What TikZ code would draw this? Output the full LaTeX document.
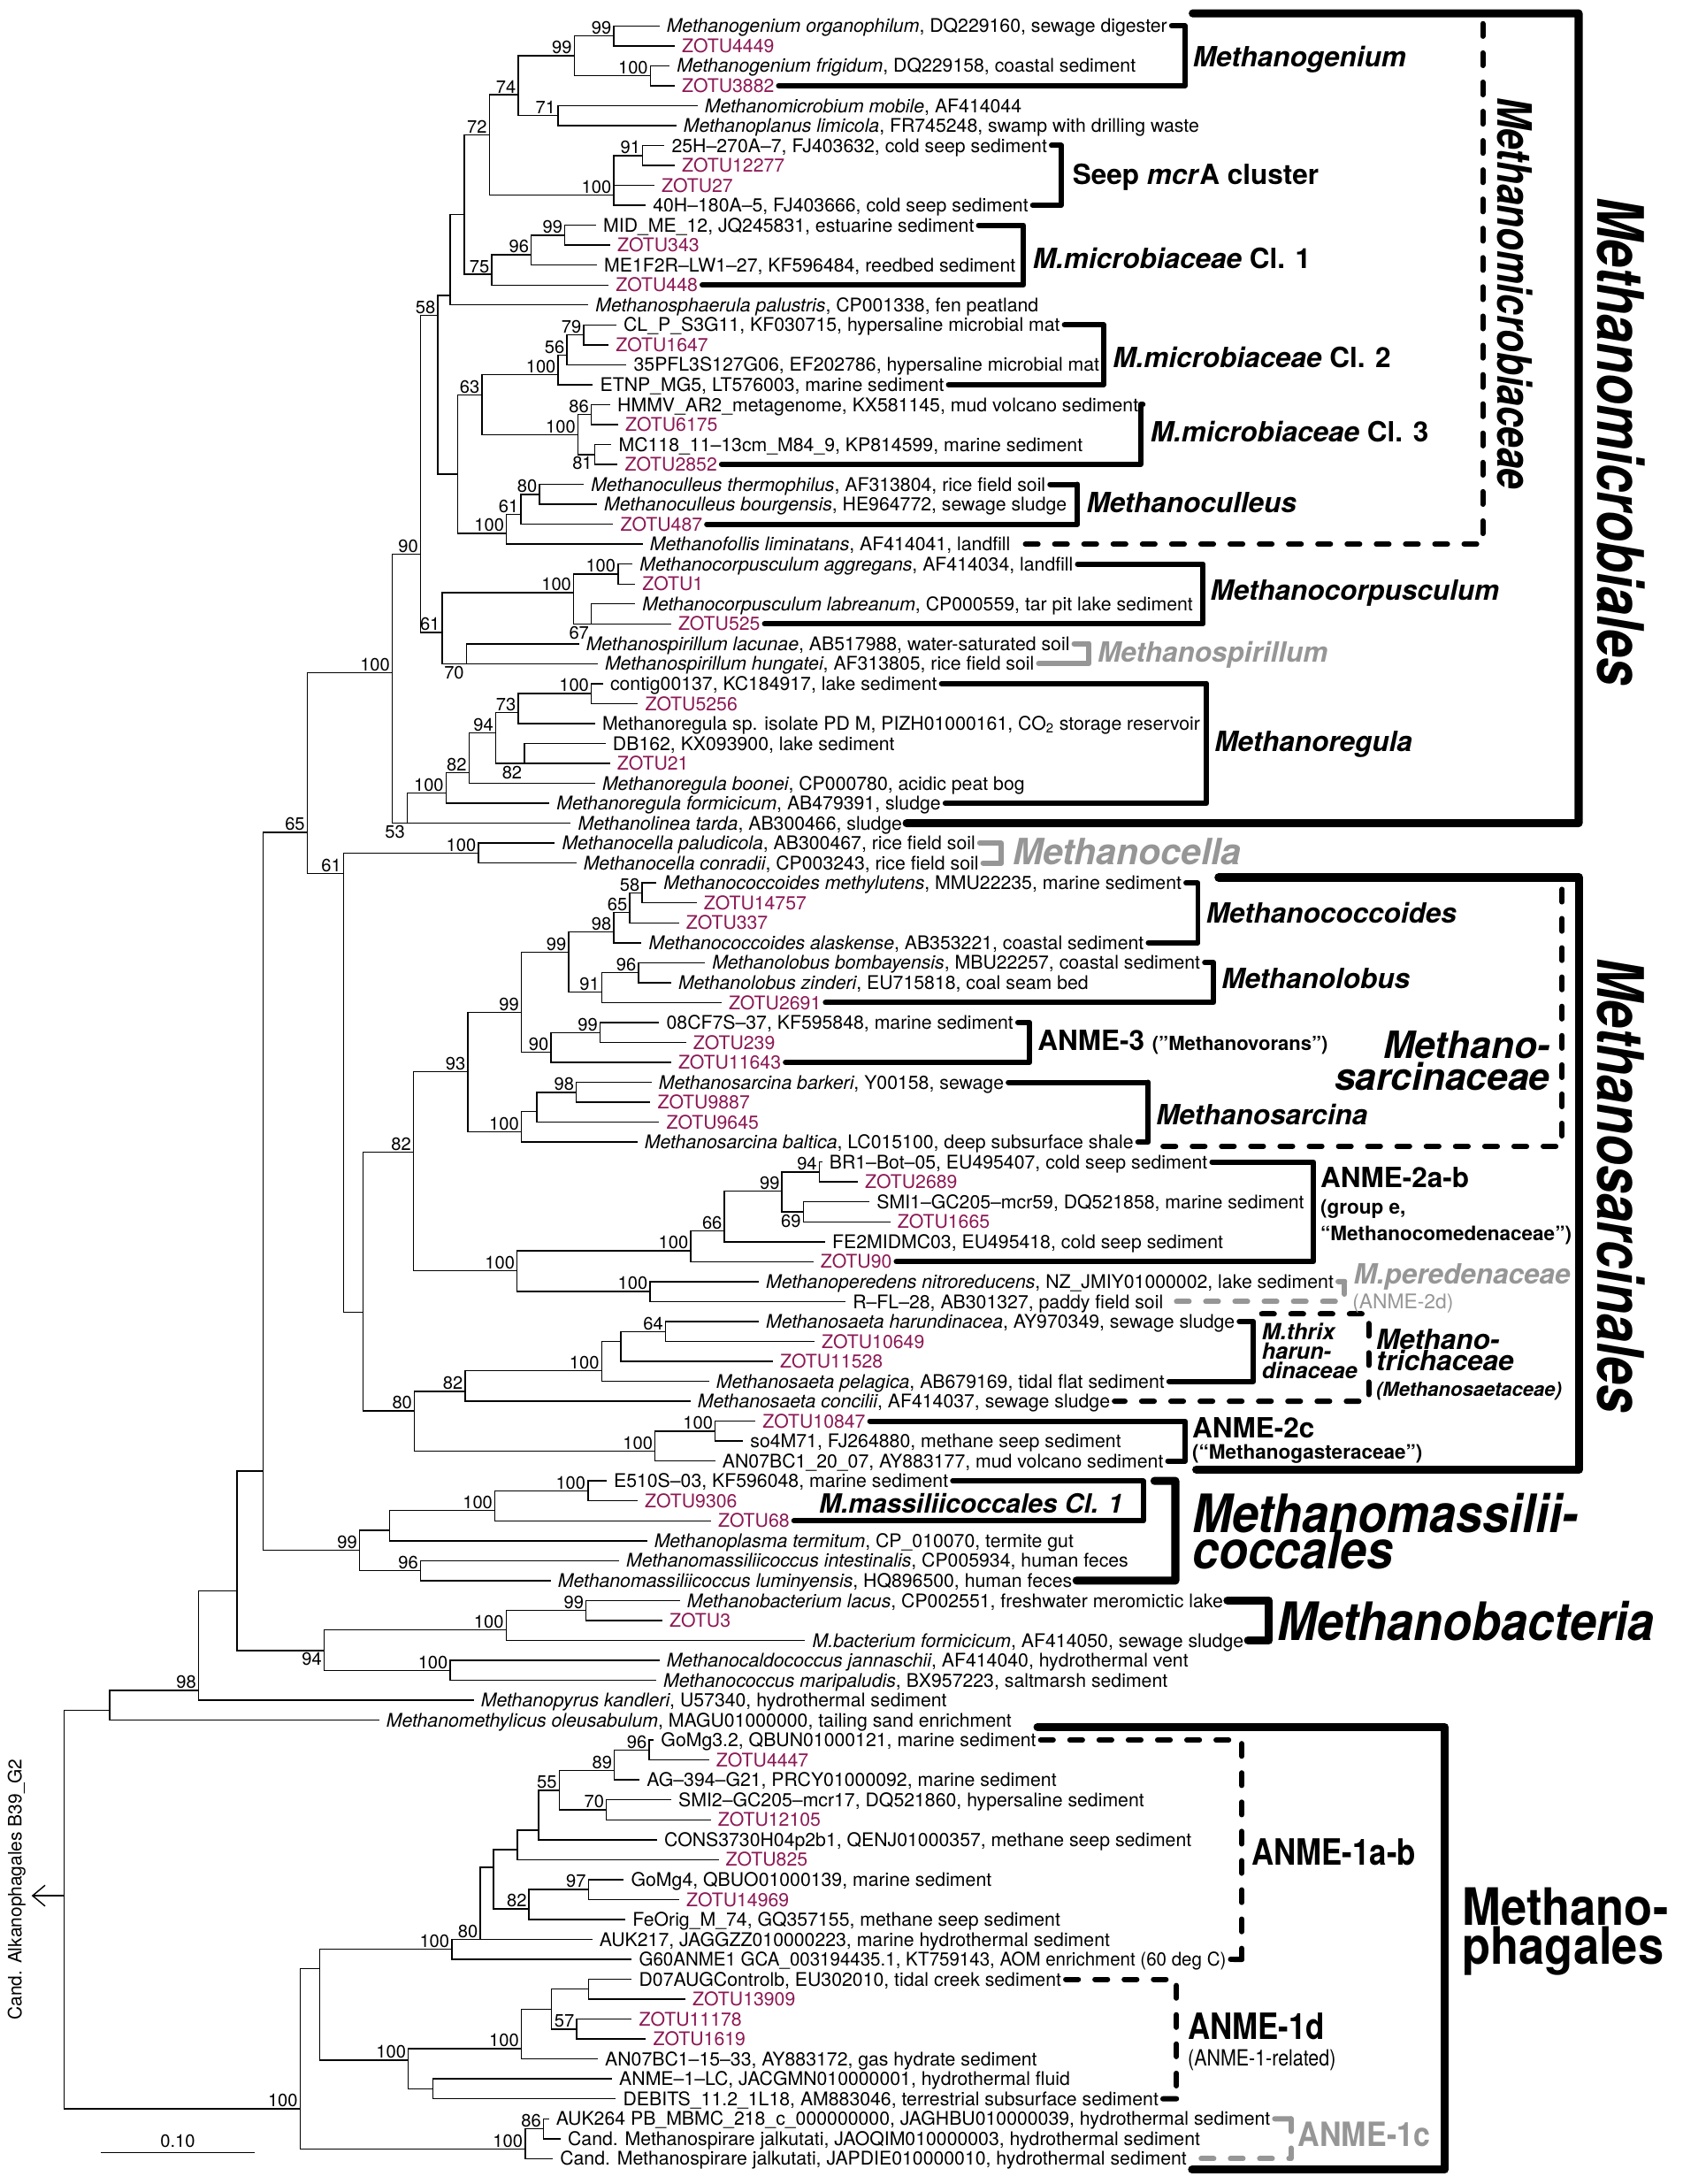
\documentclass[tikz,border=0pt]{standalone}
\usepackage{fontspec}
\setmainfont{TeX Gyre Heros}
\usepackage{tikz}
\usetikzlibrary{arrows.meta}
\definecolor{zotuR}{RGB}{140,25,85}
\definecolor{cladeG}{RGB}{150,150,150}

\newcommand{\fs}[1]{\fontsize{#1}{#1}\selectfont}
\newcommand{\cnd}[2]{\scalebox{#1}[1]{#2}}

\tikzset{
  branch/.style = {line width = 0.9pt},
  leaf/.style = {anchor = west, inner sep = 0pt, xshift = 5pt,
                 text height = 9.7pt, text depth = 0pt, font = \fs{13.5}},
  zotu/.style = {leaf, text = zotuR},
  boot/.style = {anchor = south east, inner sep = 0pt, xshift = -1.5pt, yshift = 1pt, font = \fs{12.8}},
  bootB/.style = {anchor = north east, inner sep = 0pt, xshift = -1.5pt, yshift = -1.5pt, font = \fs{12.8}},
  grp/.style = {line width = 3.8pt, line cap = round, line join = round},
  grpD/.style = {grp, dash pattern = on 9pt off 12pt},
  ordr/.style = {line width = 5.8pt, line cap = round, line join = round},
  glab/.style = {anchor = base west, inner sep = 0pt, font = \fs{20}\bfseries\itshape},
  glabU/.style = {anchor = base west, inner sep = 0pt, font = \fs{20}\bfseries},
  gsub/.style = {anchor = base west, inner sep = 0pt, font = \fs{14.3}\bfseries},
}

% internal node with bootstrap value above / below the stem
\newcommand{\bn}[3]{\coordinate (#1) at (#2); \node[boot] (#1t) at (#1) {#3};}
\newcommand{\bnB}[3]{\coordinate (#1) at (#2); \node[bootB] (#1t) at (#1) {#3};}
% leaf: style, row, tip x, parent, text
\newcommand{\tipnode}[5]{%
  \coordinate (l#2) at (#3, {18.6 + (#2 - 1)*14.31});
  \node[#1] (L#2) at (l#2) {#5};
  \draw[branch] (#4) |- (l#2);}

\begin{document}
\begin{tikzpicture}[x=1pt, y=-1pt]
  \useasboundingbox (0,0) rectangle (1208,1568);
  \fill[white] (0,0) rectangle (1208,1568);

  % ------------------------
  % internal nodes
  % ------------------------

  % Methanomicrobiales
  \bn{Na}{440.7,25.8}{99}
  \bn{Nb}{467.0,54.4}{100}
  \bn{Nc}{412.3,40.0}{99}
  \bn{Nd}{400.6,83.0}{71}
  \bn{Ne}{372.2,68.0}{74}
  \bn{Nf}{461.5,111.7}{91}
  \bn{Ng}{440.7,140.0}{100}
  \bn{Nh}{351.4,97.0}{72}
  \bn{Ni}{405.6,168.9}{99}
  \bn{Nj}{381.5,183.0}{96}
  \bn{Nk}{353.1,197.0}{75}
  \coordinate (Nl) at (333.3,154.0);
  \coordinate (Nm) at (323.2,212.0);
  \bn{N58}{314.4,226.5}{58}
  \bn{N79}{419.2,240.4}{79}
  \bn{N56}{407.1,255.0}{56}
  \bn{Ncl2}{400.8,269.0}{100}
  \bn{N63}{346.1,283.6}{63}
  \bn{N86}{424.5,297.7}{86}
  \bnB{N81}{427.0,326.3}{81}
  \bn{Ncl3}{415.0,312.0}{100}
  \bn{N80c}{387.4,354.9}{80}
  \bn{N61c}{374.1,369.3}{61}
  \bn{Ncul}{363.7,383.0}{100}
  \coordinate (Nu) at (328.6,340.3);
  \bn{Nc1}{443.8,412.2}{100}
  \bnB{N67}{424.6,447.9}{67}
  \bn{Ncor}{411.9,425.5}{100}
  \bnB{N70}{334.9,476.5}{70}
  \bn{N61b}{317.6,454.0}{61}
  \bn{N90}{302.0,397.7}{90}
  \bn{Nreg5}{424.6,498.0}{100}
  \bn{N73}{372.2,511.5}{73}
  \bnB{N82b}{376.5,548.1}{82}
  \bn{N94r}{356.0,526.0}{94}
  \bn{N82r}{336.8,554.6}{82}
  \bn{Nreg}{320.3,569.4}{100}
  \bnB{N53}{292.5,591.0}{53}
  \bn{Nmmi}{281.7,483.0}{100}
  \bn{Ncel}{343.6,612.5}{100}
  \bn{N61}{246.7,627.0}{61}
  \bn{N65}{220.6,597.5}{65}

  % Methanosarcinales
  \bn{N58s}{461.1,641.1}{58}
  \bn{N65s}{452.2,655.0}{65}
  \bn{N98s}{440.7,669.0}{98}
  \bn{N96s}{458.5,698.4}{96}
  \bn{N91s}{432.2,712.3}{91}
  \bn{N99b}{408.3,683.7}{99}
  \bn{N99c}{430.9,741.3}{99}
  \bn{N90s}{395.6,755.3}{90}
  \bn{N99a}{374.3,726.7}{99}
  \bn{N98b}{413.9,784.2}{98}
  \coordinate (Nx) at (385.4,798.0);
  \bn{Nsar}{374.3,812.4}{100}
  \bn{N93}{336.0,769.4}{93}
  \bn{N94s}{588.3,841.5}{94}
  \bnB{N69}{576.8,870.1}{69}
  \bn{N99d}{561.5,855.2}{99}
  \bn{N66}{520.2,883.8}{66}
  \bn{N100h}{496.0,898.0}{100}
  \bn{N100i}{466.8,927.3}{100}
  \bn{N100f}{371.3,912.3}{100}
  \bn{N82s}{296.9,827.2}{82}
  \bn{N64}{477.9,956.0}{64}
  \coordinate (Ny) at (445.8,963.0);
  \bn{N100k}{432.0,984.0}{100}
  \bn{N82c}{334.0,999.0}{82}
  \bn{N100l}{513.6,1027.5}{100}
  \bn{N100j}{470.4,1042.0}{100}
  \bn{N80}{297.6,1013.0}{80}
  \coordinate (Nv) at (260.8,942.0);

  % Methanomassiliicoccales, Methanobacteria, backbone
  \bn{N100n}{422.2,1070.4}{100}
  \bn{N100m}{355.4,1084.4}{100}
  \coordinate (Nz) at (279.6,1098.7);
  \bn{N96c}{301.9,1127.7}{96}
  \bn{N99m}{258.2,1113.0}{99}
  \coordinate (Ntop) at (188.8,1056.0);
  \bn{N99e}{420.9,1156.3}{99}
  \bn{N100o}{363.4,1170.0}{100}
  \bn{N100p}{323.3,1199.2}{100}
  \bnB{N94m}{232.8,1185.0}{94}
  \coordinate (Nq) at (170.1,1142.0);
  \bn{N98}{142.6,1213.5}{98}
  \coordinate (Nr) at (78.8,1228.0);
  \coordinate (root) at (46.2,1361.0);

  % Methanophagales
  \bn{N96d}{466.1,1256.4}{96}
  \bn{N89}{441.2,1271.0}{89}
  \bn{N70b}{435.5,1299.3}{70}
  \bn{N55}{401.5,1285.3}{55}
  \coordinate (N682) at (386.8,1314.0);
  \coordinate (N655) at (371.4,1328.0);
  \bn{N97}{422.5,1356.5}{97}
  \bn{N82d}{379.9,1370.5}{82}
  \coordinate (N625) at (354.4,1340.6);
  \bn{N80b}{344.8,1392.4}{80}
  \bn{N100a}{324.4,1399.3}{100}
  \coordinate (N745) at (422.5,1428.1);
  \bn{N57}{414.0,1456.8}{57}
  \coordinate (N698) at (395.8,1442.4);
  \bn{N660}{374.3,1470.8}{100}
  \coordinate (N548) at (310.8,1499.7);
  \bn{N517}{293.2,1479.0}{100}
  \coordinate (N405) at (229.7,1413.2);
  \bn{N86b}{390.2,1528.3}{86}
  \bn{N100q}{377.1,1543.0}{100}
  \bn{NM}{215.5,1514.0}{100}

  % ------------------------
  % branches between internal nodes
  % ------------------------
  \foreach \p/\c in {Nc/Na, Nc/Nb, Ne/Nc, Ne/Nd, Nh/Ne, Ng/Nf, Nh/Ng, Nl/Nh,
      Nj/Ni, Nk/Nj, Nl/Nk, Nm/Nl, N58/Nm, N56/N79, Ncl2/N56, N63/Ncl2,
      Ncl3/N86, Ncl3/N81, N63/Ncl3, Nu/N63, N61c/N80c, Ncul/N61c, Nu/Ncul,
      N58/Nu, N90/N58, Ncor/Nc1, Ncor/N67, N61b/Ncor, N61b/N70, N90/N61b,
      Nmmi/N90, N73/Nreg5, N94r/N73, N94r/N82b, N82r/N94r, Nreg/N82r,
      N53/Nreg, Nmmi/N53, N65/Nmmi, N61/Ncel, N65/N61, Ntop/N65,
      N65s/N58s, N98s/N65s, N99b/N98s, N91s/N96s, N99b/N91s, N99a/N99b,
      N90s/N99c, N99a/N90s, N93/N99a, Nx/N98b, Nsar/Nx, N93/Nsar, N82s/N93,
      N99d/N94s, N99d/N69, N66/N99d, N100h/N66, N100f/N100h, N100f/N100i,
      N82s/N100f, Nv/N82s, Ny/N64, N100k/Ny, N82c/N100k, N80/N82c,
      N100j/N100l, N80/N100j, Nv/N80, N61/Nv,
      N100m/N100n, Nz/N100m, N99m/Nz, N99m/N96c, Ntop/N99m, Nq/Ntop,
      N100o/N99e, N94m/N100o, N94m/N100p, Nq/N94m, N98/Nq, Nr/N98, root/Nr,
      N89/N96d, N55/N89, N55/N70b, N682/N55, N655/N682, N625/N655,
      N82d/N97, N625/N82d, N80b/N625, N100a/N80b, N405/N100a, N698/N745,
      N698/N57, N660/N698, N517/N660, N517/N548, N405/N517, NM/N405,
      N100q/N86b, NM/N100q, root/NM}
    \draw[branch] (\p) |- (\c);

  % ------------------------
  % leaves
  % ------------------------
  \tipnode{leaf}{1}{473.5}{Na}{\textit{Methanogenium organophilum}, DQ229160, sewage digester}
  \tipnode{zotu}{2}{484.5}{Na}{ZOTU4449}
  \tipnode{leaf}{3}{480.8}{Nb}{\textit{Methanogenium frigidum}, DQ229158, coastal sediment}
  \tipnode{zotu}{4}{484.5}{Nb}{ZOTU3882}
  \tipnode{leaf}{5}{500.9}{Nd}{\textit{Methanomicrobium mobile}, AF414044}
  \tipnode{leaf}{6}{485.6}{Nd}{\textit{Methanoplanus limicola}, FR745248, swamp with drilling waste}
  \tipnode{leaf}{7}{477.2}{Nf}{25H--270A--7, FJ403632, cold seep sediment}
  \tipnode{zotu}{8}{484.5}{Nf}{ZOTU12277}
  \tipnode{zotu}{9}{469.9}{Ng}{ZOTU27}
  \tipnode{leaf}{10}{463.7}{Ng}{40H--180A--5, FJ403666, cold seep sediment}
  \tipnode{leaf}{11}{428.0}{Ni}{MID\_ME\_12, JQ245831, estuarine sediment}
  \tipnode{zotu}{12}{438.2}{Ni}{ZOTU343}
  \tipnode{leaf}{13}{428.7}{Nj}{ME1F2R--LW1--27, KF596484, reedbed sediment}
  \tipnode{zotu}{14}{437.1}{Nk}{ZOTU448}
  \tipnode{leaf}{15}{422.5}{Nm}{\textit{Methanosphaerula palustris}, CP001338, fen peatland}
  \tipnode{leaf}{16}{442.6}{N79}{CL\_P\_S3G11, KF030715, hypersaline microbial mat}
  \tipnode{zotu}{17}{437.1}{N79}{ZOTU1647}
  \tipnode{leaf}{18}{449.9}{N56}{35PFL3S127G06, EF202786, hypersaline microbial mat}
  \tipnode{leaf}{19}{425.8}{Ncl2}{ETNP\_MG5, LT576003, marine sediment}
  \tipnode{leaf}{20}{438.2}{N86}{HMMV\_AR2\_metagenome, KX581145, mud volcano sediment}
  \tipnode{zotu}{21}{443.9}{N86}{ZOTU6175}
  \tipnode{leaf}{22}{439.1}{N81}{MC118\_11--13cm\_M84\_9, KP814599, marine sediment}
  \tipnode{zotu}{23}{443.5}{N81}{ZOTU2852}
  \tipnode{leaf}{24}{419.2}{N80c}{\textit{Methanoculleus thermophilus}, AF313804, rice field soil}
  \tipnode{leaf}{25}{428.7}{N80c}{\textit{Methanoculleus bourgensis}, HE964772, sewage sludge}
  \tipnode{zotu}{26}{440.4}{N61c}{ZOTU487}
  \tipnode{leaf}{27}{461.5}{Ncul}{\textit{Methanofollis liminatans}, AF414041, landfill}
  \tipnode{leaf}{28}{454.2}{Nc1}{\textit{Methanocorpusculum aggregans}, AF414034, landfill}
  \tipnode{zotu}{29}{456.1}{Nc1}{ZOTU1}
  \tipnode{leaf}{30}{456.1}{N67}{\textit{Methanocorpusculum labreanum}, CP000559, tar pit lake sediment}
  \tipnode{zotu}{31}{481.9}{N67}{ZOTU525}
  \tipnode{leaf}{32}{415.7}{N70}{\textit{Methanospirillum lacunae}, AB517988, water-saturated soil}
  \tipnode{leaf}{33}{429.2}{N70}{\textit{Methanospirillum hungatei}, AF313805, rice field soil}
  \tipnode{leaf}{34}{433.0}{Nreg5}{contig00137, KC184917, lake sediment}
  \tipnode{zotu}{35}{458.1}{Nreg5}{ZOTU5256}
  \tipnode{leaf}{36}{427.3}{N73}{Methanoregula sp. isolate PD M, PIZH01000161, CO\textsubscript{2} storage reservoir}
  \tipnode{leaf}{37}{434.9}{N82b}{DB162, KX093900, lake sediment}
  \tipnode{zotu}{38}{438.0}{N82b}{ZOTU21}
  \tipnode{leaf}{39}{427.3}{N82r}{\textit{Methanoregula boonei}, CP000780, acidic peat bog}
  \tipnode{leaf}{40}{394.5}{Nreg}{\textit{Methanoregula formicicum}, AB479391, sludge}
  \tipnode{leaf}{41}{409.9}{N53}{\textit{Methanolinea tarda}, AB300466, sludge}
  \tipnode{leaf}{42}{398.4}{Ncel}{\textit{Methanocella paludicola}, AB300467, rice field soil}
  \tipnode{leaf}{43}{413.8}{Ncel}{\textit{Methanocella conradii}, CP003243, rice field soil}
  \tipnode{leaf}{44}{471.3}{N58s}{\textit{Methanococcoides methylutens}, MMU22235, marine sediment}
  \tipnode{zotu}{45}{500.2}{N58s}{ZOTU14757}
  \tipnode{zotu}{46}{487.5}{N65s}{ZOTU337}
  \tipnode{leaf}{47}{460.7}{N98s}{\textit{Methanococcoides alaskense}, AB353221, coastal sediment}
  \tipnode{leaf}{48}{506.2}{N96s}{\textit{Methanolobus bombayensis}, MBU22257, coastal sediment}
  \tipnode{leaf}{49}{481.9}{N96s}{\textit{Methanolobus zinderi}, EU715818, coal seam bed}
  \tipnode{zotu}{50}{518.1}{N91s}{ZOTU2691}
  \tipnode{leaf}{51}{473.4}{N99c}{08CF7S--37, KF595848, marine sediment}
  \tipnode{zotu}{52}{492.6}{N99c}{ZOTU239}
  \tipnode{zotu}{53}{481.9}{N90s}{ZOTU11643}
  \tipnode{leaf}{54}{467.9}{N98b}{\textit{Methanosarcina barkeri}, Y00158, sewage}
  \tipnode{zotu}{55}{467.0}{N98b}{ZOTU9887}
  \tipnode{zotu}{56}{473.4}{Nx}{ZOTU9645}
  \tipnode{leaf}{57}{457.7}{Nsar}{\textit{Methanosarcina baltica}, LC015100, deep subsurface shale}
  \tipnode{leaf}{58}{590.4}{N94s}{BR1--Bot--05, EU495407, cold seep sediment}
  \tipnode{zotu}{59}{616.0}{N94s}{ZOTU2689}
  \tipnode{leaf}{60}{624.4}{N69}{SMI1--GC205--mcr59, DQ521858, marine sediment}
  \tipnode{zotu}{61}{639.3}{N69}{ZOTU1665}
  \tipnode{leaf}{62}{592.5}{N66}{FE2MIDMC03, EU495418, cold seep sediment}
  \tipnode{zotu}{63}{584.0}{N100h}{ZOTU90}
  \tipnode{leaf}{64}{544.8}{N100i}{\textit{Methanoperedens nitroreducens}, NZ\_JMIY01000002, lake sediment}
  \tipnode{leaf}{65}{607.2}{N100i}{R--FL--28, AB301327, paddy field soil}
  \tipnode{leaf}{66}{544.8}{N64}{\textit{Methanosaeta harundinacea}, AY970349, sewage sludge}
  \tipnode{zotu}{67}{584.9}{N64}{ZOTU10649}
  \tipnode{zotu}{68}{555.0}{Ny}{ZOTU11528}
  \tipnode{leaf}{69}{509.1}{N100k}{\textit{Methanosaeta pelagica}, AB679169, tidal flat sediment}
  \tipnode{leaf}{70}{495.8}{N82c}{\textit{Methanosaeta concilii}, AF414037, sewage sludge}
  \tipnode{zotu}{71}{542.5}{N100l}{ZOTU10847}
  \tipnode{leaf}{72}{533.6}{N100l}{so4M71, FJ264880, methane seep sediment}
  \tipnode{leaf}{73}{513.6}{N100j}{AN07BC1\_20\_07, AY883177, mud volcano sediment}
  \tipnode{leaf}{74}{435.6}{N100n}{E510S--03, KF596048, marine sediment}
  \tipnode{zotu}{75}{457.9}{N100n}{ZOTU9306}
  \tipnode{zotu}{76}{510.5}{N100m}{ZOTU68}
  \tipnode{leaf}{77}{464.6}{Nz}{\textit{Methanoplasma termitum}, CP\_010070, termite gut}
  \tipnode{leaf}{78}{444.5}{N96c}{\textit{Methanomassiliicoccus intestinalis}, CP005934, human feces}
  \tipnode{leaf}{79}{395.5}{N96c}{\textit{Methanomassiliicoccus luminyensis}, HQ896500, human feces}
  \tipnode{leaf}{80}{488.2}{N99e}{\textit{Methanobacterium lacus}, CP002551, freshwater meromictic lake}
  \tipnode{zotu}{81}{475.7}{N99e}{ZOTU3}
  \tipnode{leaf}{82}{578.2}{N100o}{\textit{M.bacterium formicicum}, AF414050, sewage sludge}
  \tipnode{leaf}{83}{473.5}{N100p}{\textit{Methanocaldococcus jannaschii}, AF414040, hydrothermal vent}
  \tipnode{leaf}{84}{471.2}{N100p}{\textit{Methanococcus maripaludis}, BX957223, saltmarsh sediment}
  \tipnode{leaf}{85}{340.2}{N98}{\textit{Methanopyrus kandleri}, U57340, hydrothermal sediment}
  \tipnode{leaf}{86}{272.2}{Nr}{\textit{Methanomethylicus oleusabulum}, MAGU01000000, tailing sand enrichment}
  \tipnode{leaf}{87}{469.5}{N96d}{GoMg3.2, QBUN01000121, marine sediment}
  \tipnode{zotu}{88}{509.2}{N96d}{ZOTU4447}
  \tipnode{leaf}{89}{459.3}{N89}{AG--394--G21, PRCY01000092, marine sediment}
  \tipnode{leaf}{90}{482.0}{N70b}{SMI2--GC205--mcr17, DQ521860, hypersaline sediment}
  \tipnode{zotu}{91}{510.4}{N70b}{ZOTU12105}
  \tipnode{leaf}{92}{471.8}{N682}{CONS3730H04p2b1, QENJ01000357, methane seep sediment}
  \tipnode{zotu}{93}{516.0}{N655}{ZOTU825}
  \tipnode{leaf}{94}{448.0}{N97}{GoMg4, QBUO01000139, marine sediment}
  \tipnode{zotu}{95}{487.7}{N97}{ZOTU14969}
  \tipnode{leaf}{96}{449.1}{N82d}{FeOrig\_M\_74, GQ357155, methane seep sediment}
  \tipnode{leaf}{97}{425.3}{N80b}{AUK217, JAGGZZ010000223, marine hydrothermal sediment}
  \tipnode{leaf}{98}{453.7}{N100a}{\cnd{0.965}{G60ANME1 GCA\_003194435.1, KT759143, AOM enrichment (60 deg C)}}
  \tipnode{leaf}{99}{453.7}{N745}{D07AUGControlb, EU302010, tidal creek sediment}
  \tipnode{zotu}{100}{492.2}{N745}{ZOTU13909}
  \tipnode{zotu}{101}{453.7}{N57}{ZOTU11178}
  \tipnode{zotu}{102}{463.9}{N57}{ZOTU1619}
  \tipnode{leaf}{103}{429.3}{N660}{AN07BC1--15--33, AY883172, gas hydrate sediment}
  \tipnode{leaf}{104}{439.5}{N548}{ANME--1--LC, JACGMN010000001, hydrothermal fluid}
  \tipnode{leaf}{105}{442.3}{N548}{DEBITS\_11.2\_1L18, AM883046, terrestrial subsurface sediment}
  \tipnode{leaf}{106}{394.1}{N86b}{AUK264 PB\_MBMC\_218\_c\_000000000, JAGHBU010000039, hydrothermal sediment}
  \tipnode{leaf}{107}{402.6}{N86b}{Cand. Methanospirare jalkutati, JAOQIM010000003, hydrothermal sediment}
  \tipnode{leaf}{108}{397.0}{N100q}{Cand. Methanospirare jalkutati, JAPDIE010000010, hydrothermal sediment}

  % outgroup arrow and scale bar
  \coordinate (outTip) at (22.7,1361.0);
  \draw[branch, -{Straight Barb[length=9pt, width=15pt, line width=0.9pt]}] (root) -- (outTip);
  \node[rotate=90, font=\fs{13.3}] (outLab) at (12,1356.5) {Cand. Alkanophagales B39\_G2};
  \coordinate (sbL) at (72.6,1545.5);
  \coordinate (sbR) at (182.6,1545.5);
  \draw[branch] (sbL) -- (sbR) node[midway, above=3pt, inner sep=0pt, font=\fs{12.8}] (sbLab) {0.10};

  % ------------------------
  % genus and cluster brackets
  % ------------------------
  \draw[grp] ([xshift=3pt]L1.east) -| (851,18.6) |- ([xshift=3pt]L4.east);
  \draw[grp] ([xshift=3pt]L7.east) -| (762,104.5) |- ([xshift=3pt]L10.east);
  \draw[grp] ([xshift=3pt]L11.east) -| (735,161.7) |- ([xshift=3pt]L14.east);
  \draw[grp] ([xshift=3pt]L16.east) -| (792.5,233.3) |- ([xshift=3pt]L19.east);
  \draw[grp] ([xshift=3pt]L20.east) -| (819,290.5) |- ([xshift=3pt]L23.east);
  \draw[grp] ([xshift=3pt]L24.east) -| (773.7,347.7) |- ([xshift=3pt]L26.east);
  \draw[grp] ([xshift=3pt]L28.east) -| (864,405.0) |- ([xshift=3pt]L31.east);
  \draw[grp, cladeG] ([xshift=3pt]L32.east) -| (782,462.2) |- ([xshift=3pt]L33.east);
  \draw[grp] ([xshift=3pt]L34.east) -| (866.4,490.8) |- ([xshift=3pt]L40.east);
  \draw[grp, cladeG] ([xshift=3pt]L42.east) -| (719,605.3) |- ([xshift=3pt]L43.east);
  \draw[grp] ([xshift=3pt]L44.east) -| (860.2,633.9) |- ([xshift=3pt]L47.east);
  \draw[grp] ([xshift=3pt]L48.east) -| (871.4,691.2) |- ([xshift=3pt]L50.east);
  \draw[grp] ([xshift=3pt]L51.east) -| (739.3,734.1) |- ([xshift=3pt]L53.east);
  \draw[grp] ([xshift=3pt]L54.east) -| (824.4,777.0) |- ([xshift=3pt]L57.east);
  \draw[grp] ([xshift=3pt]L58.east) -| (943.2,834.3) |- ([xshift=3pt]L63.east);
  \draw[grp, cladeG] ([xshift=3pt]L64.east) -- (965.5,920.1);
  \draw[grpD, cladeG] (965.5,920.1) |- ([xshift=3pt]L65.east);
  \draw[grp] ([xshift=3pt]L66.east) -| (900,948.8) |- ([xshift=3pt]L69.east);
  \draw[grpD] (906,943.2) -| (983,1006.0) -- ([xshift=3pt]L70.east);
  \draw[grp] ([xshift=3pt]L71.east) -| (851,1020.3) |- ([xshift=3pt]L73.east);
  \draw[grp] ([xshift=3pt]L74.east) -| (821,1063.2) |- ([xshift=3pt]L76.east);
  \draw[grpD] ([xshift=3pt]L87.east) -| (891.7,1406.7);
  \draw[grp] (891.7,1406.7) -- ([xshift=3pt]L98.east);
  \draw[grpD] ([xshift=3pt]L99.east) -| (844.8,1506.8);
  \draw[grp] (844.8,1506.8) -- ([xshift=3pt]L105.east);
  \draw[grp, cladeG] ([xshift=3pt]L106.east) -- (927,1521.2);
  \draw[grpD, cladeG] (927,1521.2) |- ([xshift=3pt]L108.east);

  % ------------------------
  % family and order brackets
  % ------------------------
  \draw[ordr] (856.5,9.6) -| (1133.6,591.0) -- ([xshift=3pt]L41.east);
  \draw[grpD] (1064.7,17) |- ([xshift=3pt]L27.east);
  \draw[ordr] (875,630) -| (1134,1055) -- (859,1055);
  \draw[grpD] (1121.7,638.5) |- (832,823);
  \draw[ordr] (829,1063.2) -| (844,1134.8) -- ([xshift=3pt]L79.east);
  \draw[ordr] ([xshift=3pt]L80.east) -| (911,1149.1) |- ([xshift=3pt]L82.east);
  \draw[ordr] (745,1240) -| (1037.4,1557.7) -- (856,1557.7);

  % ------------------------
  % clade labels
  % ------------------------
  \node[glab] (gMgn) at (856.5,48) {Methanogenium};
  \node[glabU] (gSeep) at (770,132.6) {Seep \textit{mcr}A cluster};
  \node[glabU] (gCl1) at (741.5,192.5) {\textit{M.microbiaceae} Cl. 1};
  \node[glabU] (gCl2) at (799,263.9) {\textit{M.microbiaceae} Cl. 2};
  \node[glabU] (gCl3) at (826,317.3) {\textit{M.microbiaceae} Cl. 3};
  \node[glab] (gCul) at (780,368) {Methanoculleus};
  \node[glab] (gCor) at (869,431) {Methanocorpusculum};
  \node[glab, text=cladeG] (gSpi) at (788,475.2) {Methanospirillum};
  \node[glab] (gReg) at (872,539.4) {Methanoregula};
  \node[glab, text=cladeG, font=\fs{26}\bfseries\itshape] (gCel) at (727,621) {Methanocella};
  \node[glab] (gCoc) at (866,662.7) {Methanococcoides};
  \node[glab] (gLob) at (877,710) {Methanolobus};
  \node[glabU] (gA3) at (745,754) {ANME-3 {\fs{14}(”Methanovorans”)}};
  \node[glab] (gSar) at (830,807.7) {Methanosarcina};
  \node[glabU] (gA2ab) at (948,852.3) {ANME-2a-b};
  \node[gsub] (gA2abA) at (948,871.8) {(group e,};
  \node[gsub] (gA2abB) at (948,890.8) {“Methanocomedenaceae”)};
  \node[glab, text=cladeG] (gPer) at (971.8,921.8) {M.peredenaceae};
  \node[gsub, text=cladeG, font=\fs{14.5}] (gPerB) at (971,939.4) {(ANME-2d)};
  \node[glab, font=\fs{16}\bfseries\itshape] (gThrA) at (906,962) {M.thrix};
  \node[glab, font=\fs{16}\bfseries\itshape] (gThrB) at (906,975.8) {harun-};
  \node[glab, font=\fs{16}\bfseries\itshape] (gThrC) at (906,989.7) {dinaceae};
  \node[glab] (gTriA) at (988,969.1) {Methano-};
  \node[glab] (gTriB) at (988,984.1) {trichaceae};
  \node[glab, font=\fs{14}\bfseries\itshape] (gTriC) at (988,1002.2) {(Methanosaetaceae)};
  \node[glabU] (gA2c) at (856,1032.3) {ANME-2c};
  \node[gsub] (gA2cB) at (856,1047.4) {(“Methanogasteraceae”)};
  \node[glab, font=\fs{19}\bfseries\itshape] (gMasC) at (588,1086.1) {M.massiliicoccales Cl. 1};
  \node[glabU] (gA1ab) at (898.6,1339) {\cnd{0.85}{\fs{26}ANME-1a-b}};
  \node[glabU] (gA1d) at (852.8,1463.9) {\cnd{0.85}{\fs{26}ANME-1d}};
  \node[glabU, font=\fs{16}] (gA1dB) at (852.8,1483) {\cnd{0.85}{(ANME-1-related)}};
  \node[glabU, text=cladeG] (gA1c) at (932,1541.2) {\cnd{0.9}{\fs{24}ANME-1c}};

  % family and order names
  \node[anchor=base east, inner sep=0pt, font=\fs{27}\bfseries\itshape] (fSarA) at (1113,759.6) {Methano-};
  \node[anchor=base east, inner sep=0pt, font=\fs{27}\bfseries\itshape] (fSarB) at (1113,782.9) {sarcinaceae};
  \node[rotate=-90, inner sep=0pt] (fMic) at (1088,210.7) {\cnd{0.79}{\fs{34}\bfseries\itshape Methanomicrobiaceae}};
  \node[rotate=-90, inner sep=0pt] (oMic) at (1164,317) {\cnd{0.79}{\fs{46}\bfseries\itshape Methanomicrobiales}};
  \node[rotate=-90, inner sep=0pt] (oSar) at (1164,851) {\cnd{0.79}{\fs{46}\bfseries\itshape Methanosarcinales}};
  \node[anchor=base west, inner sep=0pt] (oMasA) at (856,1100.1) {\cnd{0.9}{\fs{38}\bfseries\itshape Methanomassilii-}};
  \node[anchor=base west, inner sep=0pt] (oMasB) at (856,1126.5) {\cnd{0.9}{\fs{38}\bfseries\itshape coccales}};
  \node[anchor=base west, inner sep=0pt] (oBac) at (917,1178) {\cnd{0.9}{\fs{38}\bfseries\itshape Methanobacteria}};
  \node[anchor=base west, inner sep=0pt] (oPhaA) at (1050,1382.4) {\cnd{0.9}{\fs{37}\bfseries Methano-}};
  \node[anchor=base west, inner sep=0pt] (oPhaB) at (1050,1409.9) {\cnd{0.9}{\fs{37}\bfseries phagales}};
\end{tikzpicture}
\end{document}
